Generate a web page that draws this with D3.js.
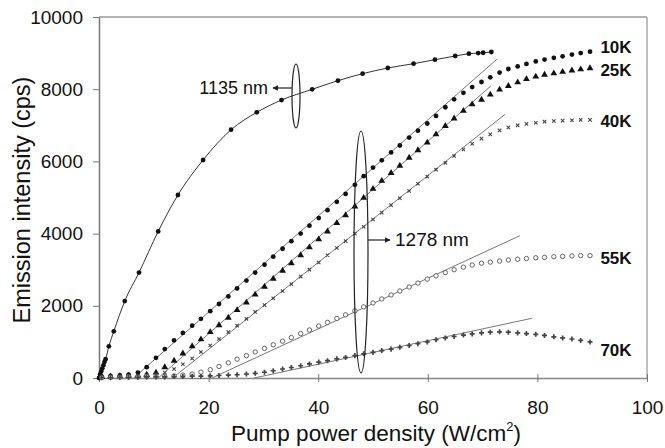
<!DOCTYPE html>
<html><head><meta charset="utf-8">
<script src="https://cdn.jsdelivr.net/npm/d3@7"></script>
<style>body{margin:0;background:#fff}svg text{font-family:"Liberation Sans",Arial,sans-serif}</style>
</head><body><svg id="c" width="665" height="448"></svg>
<script>
// ---- data ----
const xTicks=[0,20,40,60,80,100];
const yTicks=[0,2000,4000,6000,8000,10000];
const x1135=[0,0.2,0.4,0.6,0.8,1.0,1.2,1.8,2.7,4.7,7.3,10.8,14.4,19.0,24.1,28.8,33.3,38.9,43.6,48.1,52.7,57.4,61.3,65.0,67.5,69.2,70.1,71.6];
const y1135=[0,100,180,260,350,440,520,877,1293,2130,2920,4060,5069,6039,6878,7360,7700,7997,8236,8430,8587,8707,8817,8919,8983,9000,9010,9030];
const xs1278=[0.5,2.1,3.8,5.4,7.1,8.7,10.4,12.0,13.7,15.3,17.0,18.6,20.3,21.9,23.6,25.2,26.9,28.5,30.2,31.8,33.5,35.1,36.8,38.4,40.1,41.7,43.4,45.0,46.7,48.3,50.0,51.6,53.3,54.9,56.6,58.2,59.9,61.5,63.2,64.8,66.5,68.1,69.8,71.4,73.1,74.7,76.4,78.0,79.7,81.3,83.0,84.6,86.3,87.9,89.6];
const y10K=[40,60,70,90,150,300,560,800,1040,1250,1450,1640,1850,2050,2260,2480,2700,2920,3140,3360,3580,3790,4000,4220,4430,4650,4880,5100,5350,5590,5830,6030,6250,6440,6660,6850,7050,7260,7500,7720,7900,8060,8200,8330,8460,8560,8630,8700,8770,8820,8870,8910,8960,9000,9040];
const y25K=[30,40,50,60,70,90,150,300,480,680,880,1070,1270,1460,1670,1880,2090,2310,2530,2750,2970,3180,3400,3620,3840,4060,4290,4510,4750,4990,5240,5460,5680,5880,6100,6310,6520,6750,6980,7190,7400,7580,7710,7850,7990,8090,8190,8280,8350,8400,8440,8480,8520,8550,8580];
const y40K=[20,30,40,50,60,80,110,150,250,380,540,720,900,1080,1270,1450,1640,1830,2020,2210,2410,2600,2810,3000,3200,3400,3600,3790,4000,4190,4390,4580,4790,4980,5180,5380,5580,5770,5960,6150,6330,6490,6630,6750,6860,6940,7000,7040,7070,7100,7120,7130,7140,7150,7150];
const y55K=[10,20,20,30,30,40,40,50,60,80,110,160,230,320,420,520,620,720,820,920,1020,1120,1230,1330,1440,1540,1650,1750,1860,1970,2080,2190,2300,2410,2520,2630,2740,2830,2920,3000,3070,3130,3180,3210,3240,3270,3290,3310,3330,3340,3360,3370,3380,3390,3390];
const y70K=[10,10,20,20,20,30,30,30,40,40,50,50,60,70,80,90,110,130,160,200,250,290,340,390,440,480,530,570,620,670,710,760,800,850,900,950,1000,1060,1110,1150,1190,1220,1250,1270,1280,1270,1250,1230,1210,1180,1140,1110,1080,1040,1000];
const seriesNames=["10K","25K","40K","55K","70K"];
const fitStartX=[6.3,10.8,13.4,20.6,28.3];
const fitEndX=[72.6,71.5,74.1,76.8,79.0];
const fitEndY=[8828,8088,7304,3942,1654];

// ---- layout ----
const svg=d3.select("#c");
const x=d3.scaleLinear().domain([0,100]).range([99,647]);
const y=d3.scaleLinear().domain([0,10000]).range([378,17]);
const ink="#111";
const FF="'Liberation Sans',Arial,sans-serif";

// frame
svg.append("line").attr("x1",x(0)).attr("x2",x(100)).attr("y1",y(10000)).attr("y2",y(10000)).attr("stroke","#999").attr("stroke-width",1.5);
svg.append("line").attr("x1",x(100)).attr("x2",x(100)).attr("y1",y(10000)).attr("y2",y(0)).attr("stroke","#aaa").attr("stroke-width",1.5);

const ya=svg.append("g").attr("transform",`translate(${x(0)},0)`)
  .call(d3.axisLeft(y).tickValues(yTicks).tickFormat(d3.format("d")).tickSizeInner(6).tickSizeOuter(0).tickPadding(10));
ya.select(".domain").attr("stroke","#777").attr("stroke-width",1.5);
ya.selectAll(".tick line").attr("stroke","#777");
ya.selectAll("text").attr("font-size",19).attr("fill",ink).style("font-family",FF);

const xa=svg.append("g").attr("transform",`translate(0,${y(0)})`)
  .call(d3.axisBottom(x).tickValues(xTicks).tickFormat(d3.format("d")).tickSizeInner(-4).tickSizeOuter(0).tickPadding(23));
xa.select(".domain").attr("stroke","#888").attr("stroke-width",1.5);
xa.selectAll(".tick line").attr("stroke","#777").attr("y2",4).attr("y1",-4);
xa.selectAll("text").attr("font-size",19).attr("fill",ink).style("font-family",FF);

// axis titles
const xt=svg.append("text").attr("x",376).attr("y",441).attr("text-anchor","middle").attr("font-size",22.5).attr("fill",ink);
xt.append("tspan").text("Pump power density (W/cm");
xt.append("tspan").attr("font-size",13).attr("dy",-10).text("2");
xt.append("tspan").attr("dy",10).text(")");
svg.append("text").attr("transform","translate(30,200) rotate(-90)").attr("text-anchor","middle")
  .attr("font-size",23.5).attr("fill",ink).text("Emission intensity (cps)");

// fit lines
seriesNames.forEach((n,i)=>{
  svg.append("line").attr("x1",x(fitStartX[i])).attr("y1",y(0)).attr("x2",x(fitEndX[i])).attr("y2",y(fitEndY[i]))
    .attr("stroke","#777").attr("stroke-width",1);
});

// 1135 nm curve
const pts1135=x1135.map((v,i)=>[v,y1135[i]]);
svg.append("path").datum(pts1135).attr("fill","none").attr("stroke","#333").attr("stroke-width",1)
  .attr("d",d3.line().x(d=>x(d[0])).y(d=>y(d[1])).curve(d3.curveMonotoneX));
svg.append("g").selectAll("circle").data(pts1135).join("circle")
  .attr("cx",d=>x(d[0])).attr("cy",d=>y(d[1])).attr("r",2.4).attr("fill",ink);

// 1278 nm series
const g=svg.append("g");
g.append("g").selectAll("circle").data(xs1278.map((v,i)=>[v,y10K[i]])).join("circle")
  .attr("cx",d=>x(d[0])).attr("cy",d=>y(d[1])).attr("r",2.4).attr("fill",ink);
g.append("g").selectAll("path").data(xs1278.map((v,i)=>[v,y25K[i]])).join("path")
  .attr("transform",d=>`translate(${x(d[0])},${y(d[1])})`).attr("d",d3.symbol(d3.symbolTriangle,20)).attr("fill",ink);
g.append("g").selectAll("path").data(xs1278.map((v,i)=>[v,y40K[i]])).join("path")
  .attr("transform",d=>`translate(${x(d[0])},${y(d[1])})`).attr("d",d3.symbol(d3.symbolX,9)).attr("stroke","#444").attr("stroke-width",1.1).attr("fill","none");
g.append("g").selectAll("circle").data(xs1278.map((v,i)=>[v,y55K[i]])).join("circle")
  .attr("cx",d=>x(d[0])).attr("cy",d=>y(d[1])).attr("r",2.2).attr("fill","#fff").attr("stroke","#555").attr("stroke-width",0.9);
g.append("g").selectAll("path").data(xs1278.map((v,i)=>[v,y70K[i]])).join("path")
  .attr("transform",d=>`translate(${x(d[0])},${y(d[1])})`).attr("d",d3.symbol(d3.symbolCross,14)).attr("fill","#444");

// temperature labels
const labPos=[[91.5,9160],[91.5,8530],[91.5,7105],[91.5,3310],[91.5,776]];
seriesNames.forEach((n,i)=>{
  svg.append("text").attr("x",x(labPos[i][0])).attr("y",y(labPos[i][1])).attr("dy","0.35em")
    .attr("font-size",17).attr("font-weight","bold").attr("fill",ink).text(n);
});

// ellipses + annotations
svg.append("ellipse").attr("cx",296).attr("cy",96).attr("rx",4).attr("ry",32).attr("fill","none").attr("stroke","#222").attr("stroke-width",1.2);
svg.append("ellipse").attr("cx",361).attr("cy",252).attr("rx",7).attr("ry",121).attr("fill","none").attr("stroke","#222").attr("stroke-width",1.2);
const defs=svg.append("defs");
defs.append("marker").attr("id","ah").attr("viewBox","0 0 10 10").attr("refX",9).attr("refY",5)
  .attr("markerWidth",5).attr("markerHeight",5).attr("orient","auto")
  .append("path").attr("d","M0,0L10,5L0,10z").attr("fill","#222");
svg.append("line").attr("x1",292).attr("y1",88).attr("x2",273).attr("y2",88).attr("stroke","#222").attr("stroke-width",1.2).attr("marker-end","url(#ah)");
svg.append("line").attr("x1",368).attr("y1",240).attr("x2",390).attr("y2",240).attr("stroke","#222").attr("stroke-width",1.2).attr("marker-end","url(#ah)");
svg.append("text").attr("x",268).attr("y",88).attr("dy","0.35em").attr("text-anchor","end").attr("font-size",18).attr("fill",ink).text("1135 nm");
svg.append("text").attr("x",395).attr("y",239).attr("dy","0.35em").attr("font-size",19).attr("fill",ink).text("1278 nm");
</script></body></html>
